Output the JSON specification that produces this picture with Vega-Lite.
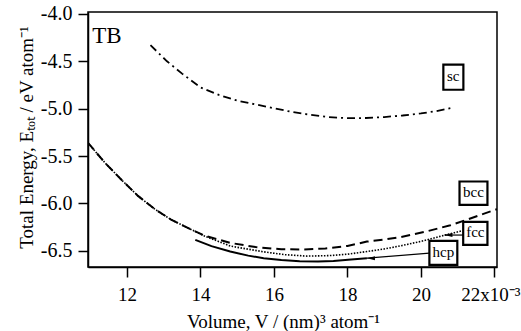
{
  "$schema": "https://vega.github.io/schema/vega-lite/v6.json",
  "autosize": {"type": "none"},
  "padding": {"left": 88, "top": 12, "right": 24, "bottom": 64},
  "width": 409,
  "height": 255,
  "background": "white",
  "config": {
    "view": {"stroke": "black", "strokeWidth": 1.5},
    "font": "Liberation Serif",
    "axis": {
      "grid": false,
      "domainColor": "black",
      "domainWidth": 1.5,
      "tickColor": "black",
      "tickWidth": 1.5,
      "tickSize": 10,
      "labelFont": "Liberation Serif",
      "labelFontSize": 20,
      "labelColor": "black",
      "titleFont": "Liberation Serif",
      "titleFontSize": 19,
      "titleFontWeight": "normal",
      "titleColor": "black"
    }
  },
  "datasets": {
    "curves": [
      {"series": "sc", "v": 12.64, "e": -4.33},
      {"series": "sc", "v": 13.09, "e": -4.5},
      {"series": "sc", "v": 13.5, "e": -4.63},
      {"series": "sc", "v": 14.0, "e": -4.775},
      {"series": "sc", "v": 14.5, "e": -4.855},
      {"series": "sc", "v": 15.0, "e": -4.915},
      {"series": "sc", "v": 15.5, "e": -4.955},
      {"series": "sc", "v": 16.0, "e": -4.995},
      {"series": "sc", "v": 16.5, "e": -5.035},
      {"series": "sc", "v": 17.0, "e": -5.065},
      {"series": "sc", "v": 17.5, "e": -5.09},
      {"series": "sc", "v": 18.0, "e": -5.1},
      {"series": "sc", "v": 18.5, "e": -5.098},
      {"series": "sc", "v": 19.0, "e": -5.088},
      {"series": "sc", "v": 19.5, "e": -5.072},
      {"series": "sc", "v": 20.0, "e": -5.05},
      {"series": "sc", "v": 20.4, "e": -5.027},
      {"series": "sc", "v": 20.8, "e": -4.995},

      {"series": "bcc", "v": 10.94, "e": -5.36},
      {"series": "bcc", "v": 11.4, "e": -5.57},
      {"series": "bcc", "v": 11.85, "e": -5.75},
      {"series": "bcc", "v": 12.3, "e": -5.92},
      {"series": "bcc", "v": 12.76, "e": -6.06},
      {"series": "bcc", "v": 13.2, "e": -6.17},
      {"series": "bcc", "v": 13.67, "e": -6.26},
      {"series": "bcc", "v": 14.12, "e": -6.34},
      {"series": "bcc", "v": 14.8, "e": -6.415},
      {"series": "bcc", "v": 15.5, "e": -6.46},
      {"series": "bcc", "v": 16.2, "e": -6.483},
      {"series": "bcc", "v": 16.8, "e": -6.485},
      {"series": "bcc", "v": 17.4, "e": -6.475},
      {"series": "bcc", "v": 18.0, "e": -6.448},
      {"series": "bcc", "v": 18.53, "e": -6.402},
      {"series": "bcc", "v": 19.0, "e": -6.38},
      {"series": "bcc", "v": 19.44, "e": -6.355},
      {"series": "bcc", "v": 20.2, "e": -6.29},
      {"series": "bcc", "v": 20.8, "e": -6.23},
      {"series": "bcc", "v": 21.26, "e": -6.17},
      {"series": "bcc", "v": 21.7, "e": -6.11},
      {"series": "bcc", "v": 22.07, "e": -6.06},

      {"series": "fcc", "v": 10.94, "e": -5.36},
      {"series": "fcc", "v": 11.4, "e": -5.57},
      {"series": "fcc", "v": 11.85, "e": -5.75},
      {"series": "fcc", "v": 12.3, "e": -5.92},
      {"series": "fcc", "v": 12.76, "e": -6.06},
      {"series": "fcc", "v": 13.2, "e": -6.17},
      {"series": "fcc", "v": 13.67, "e": -6.26},
      {"series": "fcc", "v": 14.12, "e": -6.345},
      {"series": "fcc", "v": 14.82, "e": -6.45},
      {"series": "fcc", "v": 15.72, "e": -6.51},
      {"series": "fcc", "v": 16.3, "e": -6.54},
      {"series": "fcc", "v": 16.9, "e": -6.555},
      {"series": "fcc", "v": 17.5, "e": -6.55},
      {"series": "fcc", "v": 18.0, "e": -6.535},
      {"series": "fcc", "v": 18.53, "e": -6.507},
      {"series": "fcc", "v": 19.0, "e": -6.48},
      {"series": "fcc", "v": 19.44, "e": -6.447},
      {"series": "fcc", "v": 20.0, "e": -6.4},
      {"series": "fcc", "v": 20.64, "e": -6.335},
      {"series": "fcc", "v": 21.1, "e": -6.29},

      {"series": "hcp", "v": 13.86, "e": -6.384},
      {"series": "hcp", "v": 14.3, "e": -6.45},
      {"series": "hcp", "v": 14.81, "e": -6.507},
      {"series": "hcp", "v": 15.3, "e": -6.55},
      {"series": "hcp", "v": 15.72, "e": -6.577},
      {"series": "hcp", "v": 16.2, "e": -6.597},
      {"series": "hcp", "v": 16.7, "e": -6.61},
      {"series": "hcp", "v": 17.2, "e": -6.612},
      {"series": "hcp", "v": 17.62, "e": -6.606},
      {"series": "hcp", "v": 18.1, "e": -6.592},
      {"series": "hcp", "v": 18.53, "e": -6.577}
    ],
    "boxes": [
      {"label": "sc", "x1": 20.61, "x2": 21.155, "y1": -4.535, "y2": -4.8, "cx": 20.88, "cy": -4.667},
      {"label": "bcc", "x1": 21.05, "x2": 21.81, "y1": -5.768, "y2": -6.014, "cx": 21.43, "cy": -5.891},
      {"label": "fcc", "x1": 21.15, "x2": 21.81, "y1": -6.194, "y2": -6.437, "cx": 21.48, "cy": -6.315},
      {"label": "hcp", "x1": 20.23, "x2": 20.99, "y1": -6.394, "y2": -6.648, "cx": 20.61, "cy": -6.521}
    ],
    "arrows": [
      {"label": "fcc", "tailV": 21.15, "tailE": -6.333, "headV": 20.64, "headE": -6.333},
      {"label": "hcp", "tailV": 20.23, "tailE": -6.524, "headV": 18.53, "headE": -6.577}
    ],
    "notes": [
      {"text": "TB", "v": 11.055, "e": -4.303}
    ]
  },
  "encoding": {
    "x": {
      "type": "quantitative",
      "scale": {"domain": [10.94, 22.07], "nice": false, "zero": false}
    },
    "y": {
      "type": "quantitative",
      "scale": {"domain": [-6.67, -3.98], "nice": false, "zero": false}
    }
  },
  "layer": [
    {
      "data": {"name": "curves"},
      "transform": [{"filter": "datum.series == 'sc'"}],
      "mark": {"type": "line", "color": "black", "strokeWidth": 1.8, "strokeDash": [8, 4, 2, 4], "clip": true},
      "encoding": {
        "x": {"field": "v", "type": "quantitative",
          "axis": {"values": [12, 14, 16, 18, 20, 22], "labelExpr": "datum.value == 22 ? '22x10⁻³' : datum.label", "labelPadding": 8,
            "labelFontSize": 19,
            "labelOffset": {"condition": {"test": "datum.value == 22", "value": -4}, "value": 0},
            "title": "Volume, V / (nm)³ atom⁻¹", "titleX": 195, "titleY": 60, "titleBaseline": "alphabetic", "titleAlign": "center"}},
        "y": {"field": "e", "type": "quantitative",
          "axis": {"values": [-4.0, -4.5, -5.0, -5.5, -6.0, -6.5], "format": ".1f", "labelExpr": "replace(datum.label, '−', '-')", "labelPadding": 6,
            "title": "Total Energy, Eₜₒₜ / eV atom⁻¹", "titleX": -56, "titleY": 125, "titleAngle": -90, "titleBaseline": "alphabetic", "titleAlign": "center"}}
      }
    },
    {
      "data": {"name": "curves"},
      "transform": [{"filter": "datum.series == 'bcc'"}],
      "mark": {"type": "line", "color": "black", "strokeWidth": 2, "strokeDash": [9, 5], "clip": true},
      "encoding": {"x": {"field": "v", "type": "quantitative"}, "y": {"field": "e", "type": "quantitative"}}
    },
    {
      "data": {"name": "curves"},
      "transform": [{"filter": "datum.series == 'fcc'"}],
      "mark": {"type": "line", "color": "black", "strokeWidth": 1.6, "strokeDash": [1.5, 1.5], "clip": true},
      "encoding": {"x": {"field": "v", "type": "quantitative"}, "y": {"field": "e", "type": "quantitative"}}
    },
    {
      "data": {"name": "curves"},
      "transform": [{"filter": "datum.series == 'hcp'"}],
      "mark": {"type": "line", "color": "black", "strokeWidth": 2, "clip": true},
      "encoding": {"x": {"field": "v", "type": "quantitative"}, "y": {"field": "e", "type": "quantitative"}}
    },
    {
      "data": {"name": "arrows"},
      "mark": {"type": "rule", "color": "black", "strokeWidth": 1.2},
      "encoding": {
        "x": {"field": "tailV", "type": "quantitative"},
        "y": {"field": "tailE", "type": "quantitative"},
        "x2": {"field": "headV"},
        "y2": {"field": "headE"}
      }
    },
    {
      "data": {"name": "arrows"},
      "mark": {"type": "point", "shape": "M0,0L2,-0.5L2,0.5Z", "filled": true, "color": "black", "size": 64, "opacity": 1},
      "encoding": {
        "x": {"field": "headV", "type": "quantitative"},
        "y": {"field": "headE", "type": "quantitative"}
      }
    },
    {
      "data": {"name": "boxes"},
      "mark": {"type": "rect", "fill": "white", "stroke": "black", "strokeWidth": 2.2},
      "encoding": {
        "x": {"field": "x1", "type": "quantitative"},
        "x2": {"field": "x2"},
        "y": {"field": "y1", "type": "quantitative"},
        "y2": {"field": "y2"}
      }
    },
    {
      "data": {"name": "boxes"},
      "mark": {"type": "text", "font": "Liberation Serif", "fontSize": 15, "color": "black", "align": "center", "baseline": "middle", "dy": -1},
      "encoding": {
        "x": {"field": "cx", "type": "quantitative"},
        "y": {"field": "cy", "type": "quantitative"},
        "text": {"field": "label"}
      }
    },
    {
      "data": {"name": "notes"},
      "mark": {"type": "text", "font": "Liberation Serif", "fontSize": 23, "color": "black", "align": "left", "baseline": "alphabetic"},
      "encoding": {
        "x": {"field": "v", "type": "quantitative"},
        "y": {"field": "e", "type": "quantitative"},
        "text": {"field": "text"}
      }
    }
  ]
}
